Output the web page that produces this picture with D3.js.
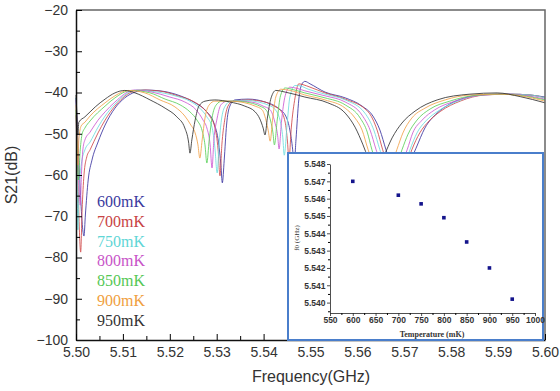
<!DOCTYPE html>
<html>
<head>
<meta charset="utf-8">
<script src="https://cdn.jsdelivr.net/npm/d3@7"></script>
<style>
  body { margin: 0; background: #fff; }
  svg { display: block; }
</style>
</head>
<body>
<svg id="chart" width="560" height="391"></svg>
<script>
// legend / series
const tempLabels = ["600mK", "700mK", "750mK", "800mK", "850mK", "900mK", "950mK"];
const lineColors = ["#3b34a0", "#d04a4a", "#6edede", "#cc5ad2", "#5cd05c", "#f2a24a", "#333333"];
const textColors = ["#3a3a9e", "#c84444", "#5fd6d6", "#c855c8", "#55c855", "#f0a040", "#333333"];

// S21 traces [frequency GHz, S21 dB]
const s21_600 = [[5.5000,-41.3],[5.5004,-51.5],[5.5009,-63.6],[5.5014,-72.8],[5.5017,-74.8],[5.5020,-69.7],[5.5026,-61.2],[5.5034,-56.4],[5.5047,-52.0],[5.5062,-47.9],[5.5083,-43.8],[5.5104,-41.3],[5.5126,-39.9],[5.5147,-39.4],[5.5179,-39.6],[5.5222,-40.8],[5.5254,-42.5],[5.5279,-44.7],[5.5294,-47.4],[5.5304,-52.2],[5.5309,-57.6],[5.5312,-61.9],[5.5316,-56.4],[5.5321,-47.9],[5.5328,-43.3],[5.5339,-41.8],[5.5367,-41.6],[5.5403,-42.3],[5.5431,-43.8],[5.5448,-45.9],[5.5456,-49.1],[5.5462,-53.9],[5.5465,-57.8],[5.5469,-51.5],[5.5475,-41.8],[5.5482,-37.9],[5.5488,-37.3],[5.5499,-37.9],[5.5531,-39.9],[5.5574,-41.3],[5.5610,-43.3],[5.5633,-45.7],[5.5648,-49.1],[5.5661,-53.9],[5.5674,-58.3],[5.5689,-60.7],[5.5704,-59.2],[5.5714,-56.4],[5.5725,-53.5],[5.5744,-48.6],[5.5770,-45.0],[5.5797,-42.8],[5.5829,-41.3],[5.5872,-40.5],[5.5925,-40.4],[5.5968,-40.6],[5.6000,-41.1]];
const s21_700 = [[5.5000,-45.5],[5.5004,-61.2],[5.5010,-78.7],[5.5013,-68.5],[5.5017,-60.0],[5.5023,-55.6],[5.5030,-53.9],[5.5047,-49.8],[5.5062,-46.7],[5.5083,-43.3],[5.5136,-39.4],[5.5175,-39.6],[5.5217,-40.8],[5.5249,-42.1],[5.5271,-43.8],[5.5286,-45.9],[5.5296,-48.4],[5.5303,-53.9],[5.5307,-60.2],[5.5311,-52.7],[5.5317,-46.7],[5.5324,-43.3],[5.5335,-42.1],[5.5367,-41.8],[5.5403,-42.3],[5.5422,-43.3],[5.5435,-44.2],[5.5446,-47.2],[5.5451,-52.0],[5.5454,-56.4],[5.5459,-48.6],[5.5467,-41.3],[5.5475,-37.9],[5.5484,-38.1],[5.5499,-38.7],[5.5531,-40.1],[5.5574,-41.6],[5.5623,-44.7],[5.5642,-49.1],[5.5654,-53.9],[5.5676,-60.5],[5.5708,-56.4],[5.5716,-53.9],[5.5733,-49.8],[5.5753,-46.9],[5.5778,-44.5],[5.5819,-42.1],[5.5872,-40.6],[5.5925,-40.4],[5.5968,-40.6],[5.6000,-41.3]];
const s21_750 = [[5.5000,-41.3],[5.5002,-56.4],[5.5004,-73.3],[5.5006,-66.1],[5.5011,-57.6],[5.5019,-53.9],[5.5030,-52.0],[5.5047,-48.4],[5.5062,-45.7],[5.5083,-42.8],[5.5130,-39.4],[5.5168,-39.8],[5.5211,-40.8],[5.5243,-42.1],[5.5264,-43.8],[5.5279,-45.9],[5.5290,-48.4],[5.5296,-53.2],[5.5301,-59.5],[5.5305,-52.7],[5.5310,-46.7],[5.5318,-43.3],[5.5330,-42.1],[5.5360,-41.9],[5.5392,-42.4],[5.5409,-43.0],[5.5422,-43.8],[5.5435,-46.7],[5.5441,-51.0],[5.5444,-55.2],[5.5450,-47.9],[5.5456,-41.1],[5.5467,-38.3],[5.5478,-38.4],[5.5495,-39.2],[5.5531,-40.4],[5.5574,-41.8],[5.5616,-45.0],[5.5635,-49.1],[5.5648,-53.9],[5.5667,-60.2],[5.5704,-56.4],[5.5712,-53.9],[5.5727,-49.8],[5.5746,-46.9],[5.5772,-44.5],[5.5814,-42.1],[5.5866,-40.6],[5.5925,-40.4],[5.5968,-40.6],[5.6000,-41.3]];
const s21_800 = [[5.5000,-41.8],[5.5004,-53.9],[5.5009,-67.3],[5.5012,-58.8],[5.5015,-53.5],[5.5019,-51.5],[5.5030,-49.6],[5.5047,-46.7],[5.5062,-44.7],[5.5083,-42.3],[5.5124,-39.4],[5.5162,-39.9],[5.5200,-41.1],[5.5232,-42.3],[5.5256,-44.2],[5.5271,-46.7],[5.5279,-48.6],[5.5286,-52.7],[5.5290,-58.3],[5.5294,-51.5],[5.5301,-46.2],[5.5309,-43.0],[5.5322,-42.1],[5.5350,-42.1],[5.5382,-42.5],[5.5399,-43.3],[5.5414,-44.2],[5.5424,-47.2],[5.5430,-50.5],[5.5433,-53.7],[5.5438,-47.2],[5.5446,-40.8],[5.5456,-38.7],[5.5471,-39.0],[5.5488,-39.6],[5.5531,-40.8],[5.5574,-42.3],[5.5610,-45.5],[5.5627,-49.1],[5.5640,-53.9],[5.5659,-59.8],[5.5697,-56.4],[5.5706,-53.9],[5.5718,-49.8],[5.5738,-46.7],[5.5765,-44.2],[5.5808,-42.1],[5.5861,-40.7],[5.5915,-40.4],[5.5957,-40.7],[5.6000,-41.6]];
const s21_850 = [[5.5000,-44.2],[5.5003,-53.9],[5.5005,-61.2],[5.5009,-53.9],[5.5013,-50.1],[5.5019,-48.6],[5.5030,-46.9],[5.5062,-43.3],[5.5083,-41.3],[5.5117,-39.5],[5.5158,-40.1],[5.5190,-41.6],[5.5222,-43.0],[5.5243,-44.7],[5.5258,-46.7],[5.5269,-49.3],[5.5275,-52.7],[5.5279,-57.1],[5.5284,-51.5],[5.5290,-46.2],[5.5299,-43.0],[5.5311,-42.1],[5.5339,-42.1],[5.5371,-42.5],[5.5392,-43.3],[5.5405,-44.2],[5.5415,-46.9],[5.5420,-49.8],[5.5423,-52.7],[5.5429,-46.7],[5.5436,-40.8],[5.5446,-38.9],[5.5463,-39.3],[5.5488,-40.1],[5.5531,-41.3],[5.5574,-43.0],[5.5606,-46.2],[5.5621,-49.6],[5.5631,-53.9],[5.5650,-59.3],[5.5687,-56.4],[5.5695,-53.9],[5.5708,-50.1],[5.5727,-46.7],[5.5755,-44.0],[5.5797,-42.1],[5.5851,-40.7],[5.5904,-40.4],[5.5947,-40.7],[5.6000,-41.8]];
const s21_900 = [[5.5000,-43.0],[5.5002,-50.3],[5.5004,-57.6],[5.5006,-51.5],[5.5011,-48.1],[5.5019,-47.2],[5.5030,-45.7],[5.5062,-42.5],[5.5083,-40.8],[5.5111,-39.5],[5.5147,-40.1],[5.5179,-41.8],[5.5211,-43.5],[5.5232,-45.7],[5.5245,-47.9],[5.5254,-49.8],[5.5260,-52.7],[5.5264,-55.9],[5.5269,-51.5],[5.5275,-46.2],[5.5284,-43.0],[5.5296,-42.1],[5.5328,-42.1],[5.5360,-42.5],[5.5382,-43.3],[5.5397,-44.2],[5.5405,-46.7],[5.5410,-49.3],[5.5414,-51.8],[5.5419,-46.7],[5.5426,-41.1],[5.5437,-39.2],[5.5456,-39.5],[5.5488,-40.6],[5.5531,-41.8],[5.5574,-43.8],[5.5595,-46.2],[5.5610,-49.1],[5.5623,-53.9],[5.5642,-58.8],[5.5676,-56.4],[5.5684,-53.9],[5.5697,-49.8],[5.5716,-46.2],[5.5744,-43.8],[5.5787,-41.8],[5.5840,-40.6],[5.5904,-40.4],[5.5947,-40.8],[5.6000,-42.1]];
const s21_950 = [[5.5000,-40.6],[5.5002,-45.5],[5.5004,-50.3],[5.5006,-47.2],[5.5019,-45.9],[5.5030,-44.7],[5.5041,-43.5],[5.5062,-41.6],[5.5083,-40.1],[5.5104,-39.5],[5.5126,-40.1],[5.5158,-41.8],[5.5190,-43.8],[5.5215,-45.9],[5.5232,-48.6],[5.5240,-52.0],[5.5243,-54.7],[5.5247,-51.5],[5.5254,-46.7],[5.5262,-43.3],[5.5275,-42.1],[5.5296,-41.8],[5.5328,-42.3],[5.5360,-43.3],[5.5382,-44.7],[5.5392,-46.4],[5.5399,-48.6],[5.5403,-50.3],[5.5408,-46.2],[5.5416,-41.3],[5.5426,-39.5],[5.5446,-39.9],[5.5488,-41.1],[5.5537,-42.5],[5.5574,-45.0],[5.5595,-48.4],[5.5612,-52.7],[5.5623,-55.9],[5.5633,-58.3],[5.5644,-57.6],[5.5657,-55.2],[5.5674,-51.0],[5.5695,-47.4],[5.5723,-44.5],[5.5770,-41.8],[5.5840,-40.4],[5.5898,-40.1],[5.5947,-41.0],[5.6000,-42.5]];
const traces = [s21_600, s21_700, s21_750, s21_800, s21_850, s21_900, s21_950];

// main axes ticks
const freqTicks = [5.50, 5.51, 5.52, 5.53, 5.54, 5.55, 5.56, 5.57, 5.58, 5.59, 5.60];
const dbTicks = [-100, -90, -80, -70, -60, -50, -40, -30, -20];

// inset: resonance frequency vs temperature
const insetTemp = [600, 700, 750, 800, 850, 900, 950];
const insetF0 = [5.5470, 5.5462, 5.5457, 5.5449, 5.5435, 5.5420, 5.5402];
const insetTempTicks = [550, 600, 650, 700, 750, 800, 850, 900, 950, 1000];
const insetF0Ticks = [5.540, 5.541, 5.542, 5.543, 5.544, 5.545, 5.546, 5.547, 5.548];

const svg = d3.select("#chart");
const sans = "'Liberation Sans', Arial, sans-serif";
const serif = "'Liberation Serif', 'DejaVu Serif', serif";

const x = d3.scaleLinear().domain([5.50, 5.60]).range([76, 545]);
const y = d3.scaleLinear().domain([-100, -20]).range([340, 10]);

// curves
const line = d3.line()
  .x(d => x(d[0]))
  .y(d => y(d[1]))
  .curve(d3.curveMonotoneX);

svg.append("g")
  .selectAll("path")
  .data(traces)
  .join("path")
  .attr("d", line)
  .attr("fill", "none")
  .attr("stroke", (d, i) => lineColors[i])
  .attr("stroke-width", 1)
  .attr("stroke-opacity", 0.85);

// frame
svg.append("path")
  .attr("d", `M${x(5.50)},${y(-20)}H${x(5.60)}V${y(-100)}`)
  .attr("fill", "none").attr("stroke", "#666").attr("stroke-width", 1.5);

// axes (ticks inside)
const gy = svg.append("g").attr("transform", `translate(${x(5.50)},0)`)
  .call(d3.axisLeft(y).tickValues(dbTicks).tickSize(-6).tickSizeOuter(0).tickPadding(8).tickFormat(d3.format("d")));
svg.append("g").attr("transform", `translate(${x(5.50)},0)`)
  .call(d3.axisLeft(y).tickValues(d3.range(-95, -20, 10)).tickSize(-4).tickSizeOuter(0).tickFormat(""))
  .select(".domain").remove();
const gx = svg.append("g").attr("transform", `translate(0,${y(-100)})`)
  .call(d3.axisBottom(x).tickValues(freqTicks).tickSize(-6).tickSizeOuter(0).tickPadding(7).tickFormat(d3.format(".2f")));
svg.append("g").attr("transform", `translate(0,${y(-100)})`)
  .call(d3.axisBottom(x).tickValues(d3.range(5.505, 5.60, 0.01)).tickSize(-4).tickSizeOuter(0).tickFormat(""))
  .select(".domain").remove();

[gx, gy].forEach(g => {
  g.select(".domain").attr("stroke", "#111").attr("stroke-width", 1.5);
  g.selectAll("text").attr("font-family", sans).attr("font-size", 14).attr("fill", "#333");
});

svg.append("text")
  .attr("transform", "translate(17,175) rotate(-90)")
  .attr("text-anchor", "middle")
  .attr("font-family", sans).attr("font-size", 16).attr("fill", "#333")
  .text("S21(dB)");
svg.append("text")
  .attr("x", 311).attr("y", 382)
  .attr("text-anchor", "middle")
  .attr("font-family", sans).attr("font-size", 16).attr("fill", "#333")
  .text("Frequency(GHz)");

// legend
svg.append("g")
  .selectAll("text")
  .data(tempLabels)
  .join("text")
  .attr("x", 97)
  .attr("y", (d, i) => 207 + i * 19.8)
  .attr("font-family", serif).attr("font-size", 16)
  .attr("fill", (d, i) => textColors[i])
  .text(d => d);

// inset
svg.append("rect")
  .attr("x", 288).attr("y", 153).attr("width", 255).attr("height", 187)
  .attr("fill", "#fff").attr("stroke", "#4a7ecb").attr("stroke-width", 2);

const ix = d3.scaleLinear().domain([550, 1000]).range([330, 535]);
const iy = d3.scaleLinear().domain([5.5394, 5.548]).range([313, 164]);

const igy = svg.append("g").attr("transform", `translate(${ix(550)},0)`)
  .call(d3.axisLeft(iy).tickValues(insetF0Ticks).tickSize(3).tickSizeOuter(0).tickPadding(1.5).tickFormat(d3.format(".3f")));
svg.append("g").attr("transform", `translate(${ix(550)},0)`)
  .call(d3.axisLeft(iy).tickValues(d3.range(5.5395, 5.548, 0.001)).tickSize(2).tickSizeOuter(0).tickFormat(""))
  .select(".domain").remove();
const igx = svg.append("g").attr("transform", `translate(0,${iy(5.5394)})`)
  .call(d3.axisBottom(ix).tickValues(insetTempTicks).tickSize(3).tickSizeOuter(0).tickPadding(1).tickFormat(d3.format("d")));
svg.append("g").attr("transform", `translate(0,${iy(5.5394)})`)
  .call(d3.axisBottom(ix).tickValues(d3.range(575, 1000, 50)).tickSize(2).tickSizeOuter(0).tickFormat(""))
  .select(".domain").remove();

[igx, igy].forEach(g => {
  g.select(".domain").attr("stroke", "#222").attr("stroke-width", 0.8);
  g.selectAll(".tick line").attr("stroke", "#222").attr("stroke-width", 0.8);
  g.selectAll("text").attr("font-family", sans).attr("font-size", 8.5)
    .attr("font-weight", "bold").attr("fill", "#333");
});

svg.append("g")
  .selectAll("rect")
  .data(insetTemp)
  .join("rect")
  .attr("x", (d) => ix(d) - 1.8)
  .attr("y", (d, i) => iy(insetF0[i]) - 1.8)
  .attr("width", 3.6).attr("height", 3.6)
  .attr("fill", "#14148c");

svg.append("text")
  .attr("x", 432).attr("y", 337)
  .attr("text-anchor", "middle")
  .attr("font-family", serif).attr("font-size", 8).attr("font-weight", "bold").attr("fill", "#333")
  .text("Temperature (mK)");
svg.append("text")
  .attr("transform", "translate(299,238) rotate(-90)")
  .attr("text-anchor", "middle")
  .attr("font-family", serif).attr("font-size", 7).attr("fill", "#333")
  .text("f0 (GHz)");
</script>
</body>
</html>
